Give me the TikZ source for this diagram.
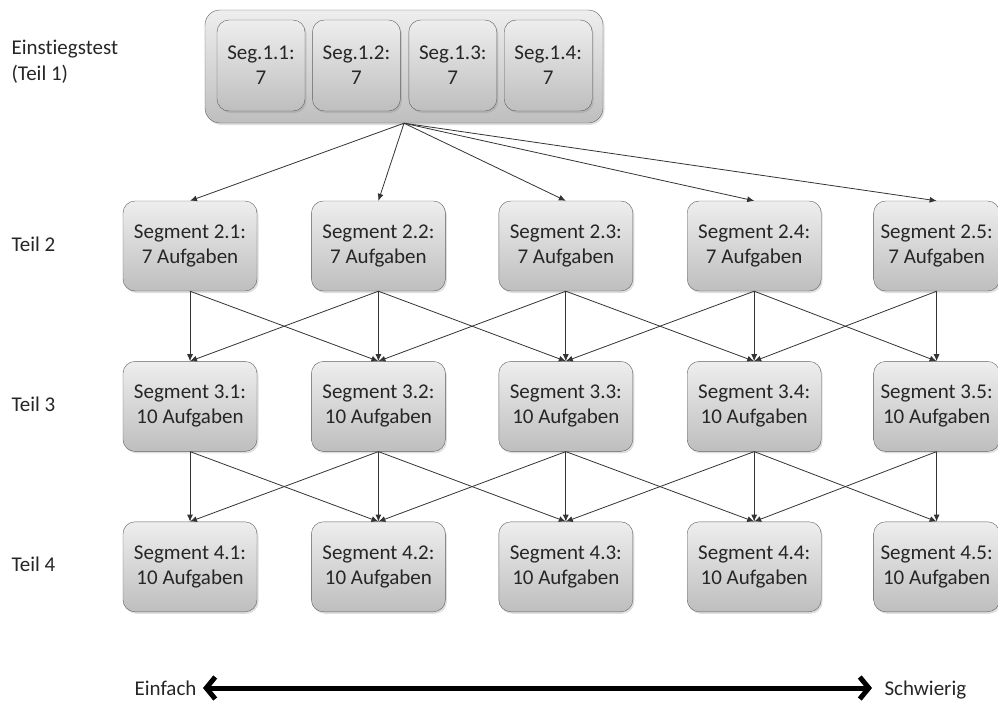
\documentclass[tikz,border=0pt]{standalone}
\usepackage{fontspec}
\setmainfont{Carlito}[Ligatures=NoCommon]
\usepackage{tikz}
\usetikzlibrary{arrows.meta, positioning, shadows}
\definecolor{boxtop}{RGB}{238,238,238}
\definecolor{boxbottom}{RGB}{190,190,190}
\definecolor{boxline}{RGB}{95,95,95}

\begin{document}
\begin{tikzpicture}[
      x=1pt, y=-1pt,
      node distance=54pt,
      seg/.style={rectangle, draw=boxline, top color=boxtop, bottom color=boxbottom, align=center,
        minimum width=134pt, minimum height=90pt, rounded corners=12pt, inner sep=0pt,
        font=\fontsize{21}{25}\selectfont, text=black!85,
        drop shadow={opacity=0.25, shadow xshift=1.5pt, shadow yshift=-2pt}},
      segsmall/.style={seg, minimum width=88pt, minimum height=91pt},
      lastseg/.style={seg, minimum width=126pt},
      rowlabel/.style={anchor=west, align=left, font=\fontsize{21}{26}\selectfont, text=black!85},
      arrow/.style={-{Latex[length=7pt, width=6pt]}, draw=black!80, line width=0.8pt}
    ]
      \useasboundingbox (0,0) rectangle (998,704);

      % Einstiegstest
      \node[seg, minimum width=398pt, minimum height=113pt, rounded corners=15pt] (start) at (404,66.5) {};
      \node[segsmall] (s11) at (261,65.5) {Seg.1.1:\\7};
      \node[segsmall, right=7pt of s11] (s12) {Seg.1.2:\\7};
      \node[segsmall, right=8pt of s12] (s13) {Seg.1.3:\\7};
      \node[segsmall, right=7pt of s13] (s14) {Seg.1.4:\\7};

      % Teil 2
      \node[seg] (s21) at (190,246) {Segment 2.1:\\7 Aufgaben};
      \node[seg, right=of s21] (s22) {Segment 2.2:\\7 Aufgaben};
      \node[seg, right=53pt of s22] (s23) {Segment 2.3:\\7 Aufgaben};
      \node[seg, right=of s23] (s24) {Segment 2.4:\\7 Aufgaben};
      \node[lastseg, right=52pt of s24] (s25) {Segment 2.5:\\7 Aufgaben};

      % Teil 3
      \node[seg, below=70pt of s21] (s31) {Segment 3.1:\\10 Aufgaben};
      \node[seg, below=70pt of s22] (s32) {Segment 3.2:\\10 Aufgaben};
      \node[seg, below=70pt of s23] (s33) {Segment 3.3:\\10 Aufgaben};
      \node[seg, below=70pt of s24] (s34) {Segment 3.4:\\10 Aufgaben};
      \node[lastseg, below=70pt of s25] (s35) {Segment 3.5:\\10 Aufgaben};

      % Teil 4
      \node[seg, below=70pt of s31] (s41) {Segment 4.1:\\10 Aufgaben};
      \node[seg, below=70pt of s32] (s42) {Segment 4.2:\\10 Aufgaben};
      \node[seg, below=70pt of s33] (s43) {Segment 4.3:\\10 Aufgaben};
      \node[seg, below=70pt of s34] (s44) {Segment 4.4:\\10 Aufgaben};
      \node[lastseg, below=70pt of s35] (s45) {Segment 4.5:\\10 Aufgaben};

      % Row labels
      \node[rowlabel] (teil1) at (8,62) {Einstiegstest\\(Teil 1)};
      \node[rowlabel] (teil2) at (8,244) {Teil 2};
      \node[rowlabel] (teil3) at (8,404) {Teil 3};
      \node[rowlabel] (teil4) at (8,564) {Teil 4};

      % Arrows
      \foreach \j in {1,...,5}
        \draw[arrow] (start.south) -- (s2\j.north);
      \foreach \a/\b in {1/1,1/2,2/1,2/2,2/3,3/2,3/3,3/4,4/3,4/4,4/5,5/4,5/5} {
        \draw[arrow] (s2\a.south) -- (s3\b.north);
        \draw[arrow] (s3\a.south) -- (s4\b.north);
      }

      % Difficulty scale
      \node[rowlabel, anchor=base west] (easy) at (131,695) {Einfach};
      \node[rowlabel, anchor=base west] (hard) at (881,695) {Schwierig};
      \coordinate (easyend) at (203,688);
      \coordinate (hardend) at (872,688);
      \draw[{Straight Barb[length=9pt, width=22pt]}-{Straight Barb[length=9pt, width=22pt]}, line width=5pt, line cap=round]
        (easyend) -- (hardend);

    \end{tikzpicture}
\end{document}
